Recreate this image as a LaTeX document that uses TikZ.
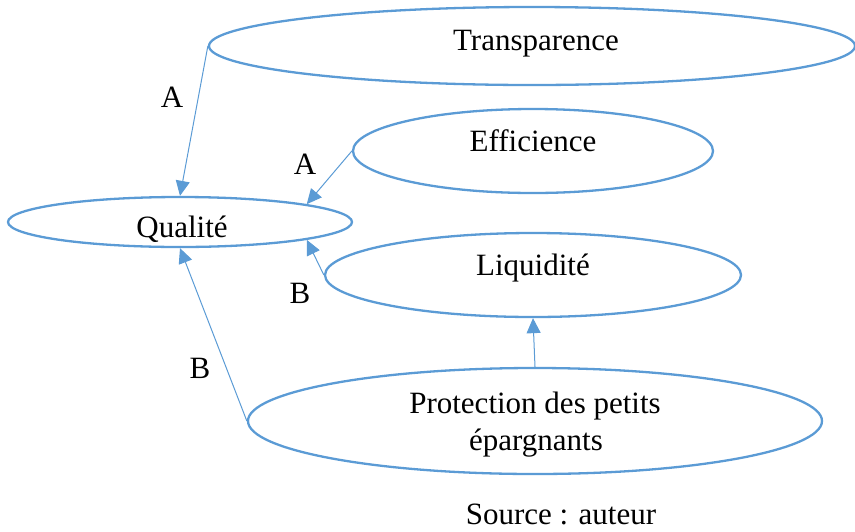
\documentclass[tikz,border=0pt]{standalone}
\usepackage{fontspec}
\setmainfont{Liberation Serif}
\usetikzlibrary{shapes.geometric,arrows.meta}
\definecolor{lineblue}{RGB}{91,155,213}
\begin{document}
\begin{tikzpicture}[x=1pt,y=1pt,
  oval/.style={draw=lineblue,line width=2.3pt,ellipse,inner sep=0pt},
  lbl/.style={anchor=base,inner sep=0pt,font=\fontsize{31}{36}\selectfont},
  link/.style={draw=lineblue,line width=1pt,-{Triangle[length=15pt,width=14pt]}}]
\useasboundingbox (0,0) rectangle (855,-531);
% ellipses
\node[oval,minimum width=646pt,minimum height=78pt] (T) at (532,-46) {};
\node[oval,minimum width=360pt,minimum height=84pt] (E) at (533,-151) {};
\node[oval,minimum width=344pt,minimum height=50pt] (Q) at (180,-222) {};
\node[oval,minimum width=416pt,minimum height=84pt] (L) at (533,-275) {};
\node[oval,minimum width=574pt,minimum height=106pt] (P) at (535,-421) {};
% texts
\node[lbl] (tT) at (536,-50) {Transparence};
\node[lbl] (tE) at (533,-151) {Efficience};
\node[lbl] (tQ) at (182,-237) {Qualité};
\node[lbl] (tL) at (533,-275) {Liquidité};
\node[lbl] (tP1) at (535,-413) {Protection des petits};
\node[lbl] (tP2) at (536,-450) {épargnants};
\node[lbl] (src) at (561,-524) {Source : auteur};
% connectors
\draw[link] (T.west) -- (Q.north);
\draw[link] (E.west) -- (Q.8);
\draw[link] (L.west) -- (Q.-8);
\draw[link] (P.west) -- (Q.south);
\draw[link] (P.north) -- (L.south);
% connector labels
\node[lbl] (a1) at (172,-107) {A};
\node[lbl] (a2) at (305,-174) {A};
\node[lbl] (b1) at (300,-303) {B};
\node[lbl] (b2) at (200,-378) {B};
\end{tikzpicture}
\end{document}
